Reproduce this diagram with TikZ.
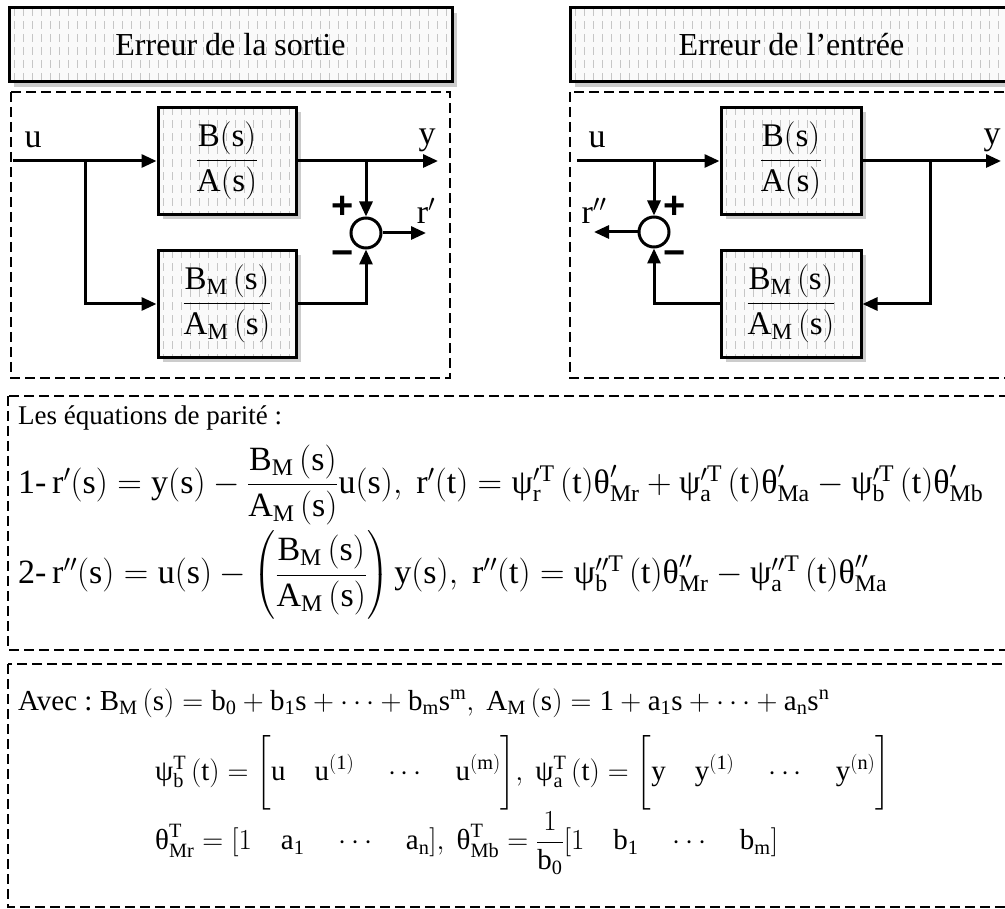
\RequirePackage{fix-cm}
\documentclass[tikz,border=0pt]{standalone}
\usepackage{amsmath}
\usepackage{fontspec}
\setmainfont{Liberation Serif}
\setsansfont{Liberation Sans}
\usepackage{tikz}
\usetikzlibrary{arrows.meta,shadows}
\tikzset{
  blk/.style={draw,line width=3pt,fill=gray!4,minimum width=138pt,minimum height=107pt,inner sep=0pt,
    font=\fontsize{33}{38}\selectfont,
    drop shadow={shadow xshift=5pt,shadow yshift=-5pt,fill=gray!40,opacity=1},
    path picture={\foreach \i in {5,14,...,460}
      \draw[gray!45,line width=0.8pt,dash pattern=on 8pt off 5pt]
        ([xshift=\i pt]path picture bounding box.north west) -- ([xshift=\i pt]path picture bounding box.south west);}},
  ttl/.style={blk,minimum width=443pt,minimum height=74pt,font=\fontsize{32}{36}\selectfont},
  frm/.style={dash pattern=on 10pt off 5pt,line width=1.6pt},
  sig/.style={line width=3pt,-{Triangle[length=15pt,width=13pt]}},
  sm/.style={circle,draw,line width=3pt,minimum size=30pt,inner sep=0pt,fill=white},
  lbl/.style={inner sep=0pt,font=\fontsize{34}{38}\selectfont},
  sgn/.style={inner sep=0pt,font=\fontsize{38}{38}\sffamily\bfseries},
  eq/.style={anchor=west,inner sep=0pt,font=\fontsize{34}{40}\selectfont},
  eqs/.style={eq,font=\fontsize{29}{34}\selectfont}
}
\newcommand{\ur}[1]{\mathrm{#1}}
\newcommand{\gpsi}{\text{ψ}}
\newcommand{\gtheta}{\text{θ}}

\begin{document}
\begin{tikzpicture}[x=1pt,y=-1pt]
\useasboundingbox (0,0) rectangle (1005,909);
\clip (0,0) rectangle (1005,909);
% erreur de la sortie
\node[ttl] (t1) at (230.5,45) {Erreur de la sortie};
\draw[frm] (11,92) rectangle (450,378);
\node[blk] (g1) at (227,161) {$\dfrac{\ur{B(s)}}{\ur{A(s)}}$};
\node[blk] (m1) at (227,304) {$\dfrac{\ur{B_M\,(s)}}{\ur{A_M\,(s)}}$};
\node[sm] (s1) at (366,233) {};
\coordinate (u1) at (13,161);
\coordinate (d1) at (85,161);
\coordinate (k1) at (366,161);
\coordinate (y1) at (438,161);
\coordinate (r1) at (426,233);
\draw[sig] (u1) -- (g1);
\draw[sig] (d1) |- (m1);
\draw[sig] (g1) -- (y1);
\draw[sig] (k1) -- (s1);
\draw[sig] (m1) -| (s1);
\draw[sig] (s1) -- (r1);
\node[lbl] (lu1) at (33,140) {u};
\node[lbl] (ly1) at (427,140) {y};
\node[lbl] (lr1) at (426,211) {r$'$};
\node[sgn] (p1) at (343,207) {+};
\node[sgn] (n1) at (343,258) {−};
% erreur de l'entree
\node[ttl] (t2) at (791.5,45) {Erreur de l’entrée};
\draw[frm] (570,92) rectangle (1011,378);
\node[blk,minimum width=140pt] (g2) at (791,161) {$\dfrac{\ur{B(s)}}{\ur{A(s)}}$};
\node[blk,minimum width=140pt] (m2) at (791,304) {$\dfrac{\ur{B_M\,(s)}}{\ur{A_M\,(s)}}$};
\node[sm] (s2) at (654,232) {};
\coordinate (u2) at (577,161);
\coordinate (k2) at (654,161);
\coordinate (d2) at (930,161);
\coordinate (y2) at (1001,161);
\coordinate (r2) at (594,232);
\draw[sig] (u2) -- (g2);
\draw[sig] (k2) -- (s2);
\draw[sig] (g2) -- (y2);
\draw[sig] (d2) |- (m2);
\draw[sig] (m2) -| (s2);
\draw[sig] (s2) -- (r2);
\node[lbl] (lu2) at (597,140) {u};
\node[lbl] (ly2) at (992,140) {y};
\node[lbl] (lr2) at (594,211) {r$''$};
\node[sgn] (p2) at (675,207) {+};
\node[sgn] (n2) at (675,258) {−};
% equations
\draw[frm] (8,396) rectangle (1012,650);
\draw[frm] (8,664) rectangle (1012,907);
\node[eq,font=\fontsize{27}{32}\selectfont] (e0) at (18,418) {Les équations de parité :};
\node[eq] (e1) at (18,485) {1-\,$\ur{r'(s)=y(s)}-\dfrac{\ur{B_M\,(s)}}{\ur{A_M\,(s)}}\ur{u(s)},\ \ur{r'(t)}=\gpsi'^{\ur T}_{\ur r}\,(\ur t)\gtheta'_{\ur{Mr}}+\gpsi'^{\ur T}_{\ur a}\,(\ur t)\gtheta'_{\ur{Ma}}-\gpsi'^{\ur T}_{\ur b}\,(\ur t)\gtheta'_{\ur{Mb}}$};
\node[eq] (e2) at (18,575) {2-\,$\ur{r''(s)=u(s)}-\left(\dfrac{\ur{B_M\,(s)}}{\ur{A_M\,(s)}}\right)\ur{y(s)},\ \ur{r''(t)}=\gpsi''^{\ur T}_{\ur b}\,(\ur t)\gtheta''_{\ur{Mr}}-\gpsi''^{\ur T}_{\ur a}\,(\ur t)\gtheta''_{\ur{Ma}}$};
\node[eqs] (e3) at (18,703) {Avec :~$\ur{B_M\,(s)=b_0+b_1s}+\cdots+\ur{b_ms^m},\ \ur{A_M\,(s)=1+a_1s}+\cdots+\ur{a_ns^n}$};
\node[eqs] (e4) at (155,773) {$\gpsi^{\ur T}_{\ur b}\,(\ur t)=\biggl[\ur{u}\quad\ur{u^{(1)}}\quad\cdots\quad\ur{u^{(m)}}\biggr],\ \gpsi^{\ur T}_{\ur a}\,(\ur t)=\biggl[\ur{y}\quad\ur{y^{(1)}}\quad\cdots\quad\ur{y^{(n)}}\biggr]$};
\node[eqs] (e5) at (155,843) {$\gtheta^{\ur T}_{\ur{Mr}}=[1\quad\ur{a_1}\quad\cdots\quad\ur{a_n}],\ \gtheta^{\ur T}_{\ur{Mb}}=\dfrac{1}{\ur{b_0}}[1\quad\ur{b_1}\quad\cdots\quad\ur{b_m}]$};
\end{tikzpicture}
\end{document}
